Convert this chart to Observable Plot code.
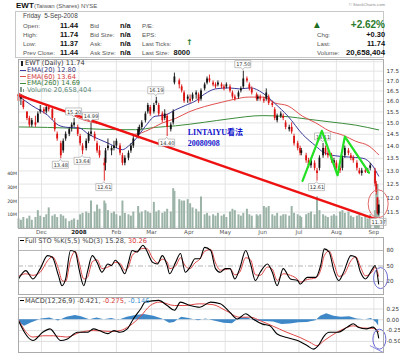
<!DOCTYPE html>
<html><head><meta charset="utf-8">
<script src="https://cdn.jsdelivr.net/npm/d3@7"></script>
<script src="https://cdn.jsdelivr.net/npm/@observablehq/plot@0.6"></script>
<style>
html,body{margin:0;padding:0;background:#fff;}
#root{position:relative;width:400px;height:354px;overflow:hidden;background:#fff;font-family:"Liberation Sans",Arial,sans-serif;}
.t{position:absolute;white-space:pre;line-height:1;}
#root svg{position:absolute;left:0;}
</style></head><body><div id="root"></div>
<script>
// ---------- DATA ----------
const candleDates = ["2007-11-12","2007-11-14","2007-11-16","2007-11-19","2007-11-21","2007-11-23","2007-11-26","2007-11-28","2007-11-30","2007-12-03","2007-12-05","2007-12-07","2007-12-10","2007-12-12","2007-12-14","2007-12-17","2007-12-19","2007-12-21","2007-12-24","2007-12-26","2007-12-28","2007-12-31","2008-01-02","2008-01-04","2008-01-07","2008-01-09","2008-01-11","2008-01-14","2008-01-16","2008-01-18","2008-01-22","2008-01-23","2008-01-25","2008-01-28","2008-01-30","2008-02-01","2008-02-04","2008-02-06","2008-02-08","2008-02-11","2008-02-13","2008-02-15","2008-02-19","2008-02-20","2008-02-22","2008-02-25","2008-02-27","2008-02-29","2008-03-03","2008-03-05","2008-03-07","2008-03-10","2008-03-12","2008-03-14","2008-03-17","2008-03-19","2008-03-20","2008-03-24","2008-03-26","2008-03-28","2008-03-31","2008-04-02","2008-04-04","2008-04-07","2008-04-09","2008-04-11","2008-04-14","2008-04-16","2008-04-18","2008-04-21","2008-04-23","2008-04-25","2008-04-28","2008-04-30","2008-05-02","2008-05-05","2008-05-07","2008-05-09","2008-05-12","2008-05-14","2008-05-16","2008-05-19","2008-05-21","2008-05-23","2008-05-27","2008-05-28","2008-05-30","2008-06-02","2008-06-04","2008-06-06","2008-06-09","2008-06-11","2008-06-13","2008-06-16","2008-06-18","2008-06-20","2008-06-23","2008-06-25","2008-06-27","2008-06-30","2008-07-02","2008-07-03","2008-07-07","2008-07-09","2008-07-11","2008-07-14","2008-07-16","2008-07-18","2008-07-21","2008-07-23","2008-07-25","2008-07-28","2008-07-30","2008-08-01","2008-08-04","2008-08-06","2008-08-08","2008-08-11","2008-08-13","2008-08-15","2008-08-18","2008-08-20","2008-08-22","2008-08-25","2008-08-27","2008-08-29","2008-09-02","2008-09-03","2008-09-04","2008-09-05"];
const opens  = [16.3,16.1,16.0,15.5,15.2,14.9,15.0,15.0,15.5, 15.6,15.5,15.7,15.6,15.0,14.5,14.1,13.8,14.3,14.5,14.8,15.0,14.8, 14.4,14.0,13.9,14.2,14.5,14.5,14.1,13.8,13.2,13.3,14.0,13.8,14.0, 14.0,14.0,13.6,13.3,13.5,13.8,14.0,14.4,14.6,14.8,15.1,15.5,15.7, 15.5,15.9,15.8,15.4,15.2,15.3,14.7,15.0,16.9,17.0,16.7,16.4,16.1, 16.1,16.1,16.3,16.3,16.1,16.6,16.9,17.1,16.9,16.8,16.8,16.8,16.7, 16.7,16.7,16.4,16.2,16.2,16.5,16.7,17.1,16.8,16.6,16.3,16.1,16.2, 16.1,16.1,16.2,15.9,15.6,15.1,15.3,15.3,15.0,14.7,14.8,14.4,14.1, 13.9,13.7,13.6,13.4,13.2,13.3,13.0,13.1,13.6,13.9,13.7,13.6,13.3, 13.3,13.1,13.1,13.6,13.8,13.6,13.5,13.3,13.0,12.9,13.0,12.95,13.1, 13.0,12.5,12.0,11.44];
const highs  = [16.4,16.3,16.1,15.5,15.3,15.2,15.3,15.5,15.8, 15.7,15.8,15.8,15.7,15.2,14.6,14.2,14.3,14.6,14.8,15.0,15.2,14.9, 14.5,14.1,14.3,14.6,14.99,14.6,14.2,14.0,13.5,13.9,14.3,14.0,14.2, 14.3,14.1,13.7,13.6,13.8,14.1,14.4,14.8,14.9,15.1,15.5,15.9,15.8, 15.9,16.19,15.9,15.5,15.6,15.4,15.0,15.6,17.4,17.1,16.8,16.5,16.3, 16.3,16.4,16.5,16.4,16.6,16.9,17.2,17.3,17.0,16.9,17.0,16.9,16.8, 16.9,16.8,16.5,16.3,16.5,16.7,17.5,17.2,16.9,16.7,16.4,16.3,16.3, 16.2,16.6,16.3,16.0,15.7,15.4,15.5,15.4,15.1,14.9,15.0,14.5,14.2, 14.0,13.9,13.7,13.5,13.5,13.4,13.1,13.6,14.11,14.0,13.8,13.7,13.5, 13.4,13.2,13.6,14.0,13.9,13.7,13.6,13.4,13.1,13.1,13.1,13.1,13.3, 13.1,12.6,12.0,11.74];
const lows   = [15.9,15.8,15.6,15.1,14.8,14.8,14.8,15.0,15.4, 15.4,15.4,15.5,15.1,14.6,14.2,13.48,13.7,14.2,14.4,14.6,14.8,14.4, 14.0,13.64,13.8,14.1,14.4,14.2,13.7,13.5,12.61,13.0,13.8,13.6,13.8, 13.9,13.6,13.2,13.2,13.4,13.7,13.9,14.3,14.5,14.7,15.0,15.4,15.3, 15.4,15.8,15.3,15.0,15.1,14.40,14.6,14.9,16.8,16.6,16.4,15.9,15.9, 15.9,16.0,16.1,15.9,16.0,16.5,16.8,16.9,16.7,16.6,16.7,16.6,16.5, 16.6,16.4,16.1,16.0,16.1,16.4,16.6,16.9,16.5,16.3,16.0,16.0,16.0, 15.9,16.0,15.8,15.7,15.1,15.0,15.2,15.1,14.7,14.6,14.5,14.0,13.8, 13.6,13.6,13.3,13.1,13.1,13.0,12.61,13.0,13.5,13.6,13.5,13.3,13.2, 13.0,12.9,13.0,13.5,13.6,13.4,13.3,13.0,12.85,12.8,12.9,12.9,13.0, 12.4,12.1,11.4,11.37];
const closes = [16.0,16.2,15.7,15.2,14.9,15.1,14.9,15.4,15.6, 15.5,15.7,15.6,15.2,14.7,14.3,13.6,14.2,14.5,14.7,14.9,14.9,14.5, 14.1,13.8,14.2,14.5,14.6,14.3,13.8,13.6,13.3,13.8,13.9,13.9,13.9, 14.2,13.7,13.3,13.5,13.7,14.0,14.3,14.7,14.8,15.0,15.4,15.8,15.4, 15.8,16.0,15.4,15.1,15.4,14.8,14.9,15.5,17.2,16.8,16.5,16.0,16.2, 16.0,16.3,16.4,16.0,16.5,16.8,17.1,17.0,16.8,16.7,16.9,16.7,16.6, 16.8,16.5,16.2,16.1,16.4,16.6,17.1,17.0,16.6,16.4,16.1,16.2,16.1, 16.0,16.4,15.9,15.8,15.2,15.3,15.4,15.2,14.8,14.8,14.6,14.1,13.9, 13.7,13.8,13.4,13.2,13.4,13.1,12.9,13.5,13.9,13.7,13.6,13.4,13.4, 13.1,13.0,13.5,13.9,13.7,13.5,13.4,13.1,12.9,13.0,12.95,13.0,13.2, 12.5,12.2,11.44,11.74];
const volumes = [7,6,8,7,9,6,8,13,9, 8,10,15,9,10,8,10,9,7,5,6,7,6, 10,11,12,11,20,12,17,14,20,18,13,11,12, 10,9,20,11,10,9,12,16,11,12,13,12,11, 19,12,13,11,12,14,12,29,27,21,20,20,21, 18,15,14,12,23,10,11,9,10,9,11,9,10, 8,12,14,13,10,9,11,14,10,9,10,9,10, 16,15,16,10,9,11,9,10,10,9,16,11,10, 9,8,10,11,12,10,23,13,10,9,8,9,10, 9,12,13,11,12,9,8,9,10,8,9,7,10, 13,25,32,20.66];

const ema20 = [["2007-11-12",16.25],["2007-11-23",15.8],["2007-12-06",15.35],["2007-12-15",14.9],["2007-12-23",14.8],["2008-01-01",14.78],["2008-01-09",14.5],["2008-01-17",14.3],["2008-01-26",14.1],["2008-02-06",13.85],["2008-02-11",14.0],["2008-02-17",14.3],["2008-02-25",14.85],["2008-03-04",15.3],["2008-03-12",15.35],["2008-03-21",15.6],["2008-03-29",15.8],["2008-04-06",16.0],["2008-04-14",16.35],["2008-04-23",16.6],["2008-05-04",16.65],["2008-05-13",16.6],["2008-05-22",16.65],["2008-06-01",16.4],["2008-06-11",15.9],["2008-06-22",15.3],["2008-07-04",14.5],["2008-07-15",14.0],["2008-07-21",13.75],["2008-07-31",13.6],["2008-08-11",13.55],["2008-08-23",13.5],["2008-08-31",13.2],["2008-09-05",12.8]];
const ema60 = [["2007-11-12",16.4],["2007-11-22",16.1],["2007-12-06",15.8],["2007-12-21",15.5],["2008-01-04",15.15],["2008-01-18",14.95],["2008-02-04",14.7],["2008-02-16",14.5],["2008-02-28",14.7],["2008-03-10",15.0],["2008-03-21",15.2],["2008-04-01",15.5],["2008-04-14",15.75],["2008-04-28",15.95],["2008-05-09",16.1],["2008-05-20",16.2],["2008-06-01",16.2],["2008-06-11",15.92],["2008-06-22",15.78],["2008-07-04",15.3],["2008-07-15",15.0],["2008-07-26",14.65],["2008-08-07",14.45],["2008-08-17",14.2],["2008-08-28",14.0],["2008-09-05",13.64]];
const ema260 = [["2007-11-12",14.82],["2007-12-06",14.8],["2008-01-05",14.75],["2008-02-02",14.7],["2008-02-17",14.7],["2008-03-04",14.8],["2008-03-21",14.87],["2008-04-14",15.03],["2008-05-04",15.18],["2008-06-01",15.33],["2008-06-22",15.28],["2008-07-08",15.17],["2008-07-26",15.05],["2008-08-17",14.9],["2008-09-05",14.69]];
const trendLine = [["2007-11-12",16.29],["2008-09-09",11.17]];
const greenPattern = [["2008-07-04",12.62],["2008-07-20",14.65],["2008-08-02",12.83],["2008-08-08",14.4],["2008-08-28",12.93]];
const highLabels = [["2007-12-28",15.20],["2008-01-11",14.99],["2008-03-05",16.19],["2008-05-16",17.50],["2008-07-21",14.11]];
const lowLabels = [["2007-12-17",13.48],["2008-01-04",13.64],["2008-01-22",12.61],["2008-03-14",14.40],["2008-07-16",12.61],["2008-09-05",11.37]];
const noteLines = ["LINTAIYU看法", "20080908"];

const stoDates = ["2007-11-12","2007-11-18","2007-11-24","2007-11-30","2007-12-06","2007-12-10","2007-12-15","2007-12-18","2007-12-21","2007-12-25","2007-12-29","2008-01-01","2008-01-05","2008-01-08","2008-01-12","2008-01-16","2008-01-20","2008-01-25","2008-01-28","2008-01-31","2008-02-04","2008-02-08","2008-02-11","2008-02-14","2008-02-18","2008-02-23","2008-02-26","2008-03-02","2008-03-06","2008-03-10","2008-03-14","2008-03-16","2008-03-21","2008-03-25","2008-03-29","2008-04-02","2008-04-06","2008-04-10","2008-04-14","2008-04-19","2008-04-23","2008-04-27","2008-05-01","2008-05-05","2008-05-09","2008-05-13","2008-05-18","2008-05-22","2008-05-26","2008-05-30","2008-06-05","2008-06-09","2008-06-13","2008-06-18","2008-06-24","2008-06-30","2008-07-02","2008-07-08","2008-07-15","2008-07-19","2008-07-22","2008-07-26","2008-07-30","2008-08-03","2008-08-07","2008-08-13","2008-08-17","2008-08-21","2008-08-25","2008-08-31","2008-09-02","2008-09-05"];
const stoK = [25,41,25,45, 70,67,32,12,25,80,77, 45,12,38,70,57,38,54,51,61, 51,35,57,80,77,90,80, 57,54,70,51,35,57,74,38, 48,64,64,86,80,45,38, 45,45,25,45,80,54,22,38, 54,38,12,45,25,22, 15,28,28,51,83,77,41, 22,38,70,67,38,25,45, 51,15.28];
const stoD = [30,35,32,38, 60,68,45,22,20,62,78, 58,25,28,58,62,45,48,52,57, 55,42,48,70,78,84,84, 65,56,63,58,45,50,66,50, 45,56,63,78,82,56,42, 43,45,33,38,66,62,33,32, 48,44,22,35,32,24, 19,24,27,42,70,79,55, 30,33,60,68,48,31,40, 48,30.26];

const macdLine = [["2007-11-12",-0.02],["2007-11-24",-0.48],["2007-12-02",-0.29],["2007-12-08",-0.21],["2007-12-17",-0.48],["2007-12-22",-0.45],["2007-12-31",-0.29],["2008-01-08",-0.29],["2008-01-13",-0.21],["2008-01-18",-0.25],["2008-01-25",-0.32],["2008-01-30",-0.25],["2008-02-04",-0.29],["2008-02-10",-0.21],["2008-02-15",0.02],["2008-02-21",0.25],["2008-02-25",0.41],["2008-03-07",0.45],["2008-03-14",0.33],["2008-03-20",0.22],["2008-03-25",0.41],["2008-04-02",0.33],["2008-04-10",0.29],["2008-04-19",0.41],["2008-04-27",0.37],["2008-05-05",0.17],["2008-05-11",0.02],["2008-05-18",0.14],["2008-05-24",0.02],["2008-06-01",-0.1],["2008-06-07",-0.14],["2008-06-13",-0.33],["2008-06-21",-0.41],["2008-06-30",-0.48],["2008-07-08",-0.6],["2008-07-13",-0.68],["2008-07-17",-0.6],["2008-07-22",-0.37],["2008-07-26",-0.29],["2008-08-02",-0.29],["2008-08-10",-0.17],["2008-08-15",-0.09],["2008-08-19",-0.17],["2008-08-26",-0.21],["2008-08-31",-0.17],["2008-09-04",-0.29],["2008-09-05",-0.421]];
const signalLine = [["2007-11-12",0.0],["2007-11-24",-0.40],["2007-12-02",-0.37],["2007-12-11",-0.37],["2007-12-22",-0.40],["2008-01-02",-0.29],["2008-01-13",-0.25],["2008-01-28",-0.27],["2008-02-04",-0.25],["2008-02-12",-0.14],["2008-02-21",0.08],["2008-02-29",0.33],["2008-03-08",0.41],["2008-03-20",0.33],["2008-03-28",0.33],["2008-04-10",0.37],["2008-04-21",0.35],["2008-05-01",0.22],["2008-05-13",0.06],["2008-05-22",0.06],["2008-05-30",-0.02],["2008-06-09",-0.14],["2008-06-21",-0.29],["2008-07-02",-0.41],["2008-07-10",-0.52],["2008-07-16",-0.6],["2008-07-22",-0.48],["2008-07-30",-0.33],["2008-08-07",-0.21],["2008-08-15",-0.14],["2008-08-23",-0.19],["2008-09-01",-0.2],["2008-09-05",-0.275]];
const histogram = [["2007-11-12",-0.05],["2007-11-17",-0.15],["2007-11-22",-0.08],["2007-12-01",0.02],["2007-12-08",0.04],["2007-12-15",-0.03],["2007-12-22",0.06],["2007-12-29",0.1],["2008-01-03",0.07],["2008-01-10",0.0],["2008-01-16",0.04],["2008-01-22",0.0],["2008-01-28",0.03],["2008-02-03",-0.01],["2008-02-10",0.06],["2008-02-17",0.1],["2008-02-24",0.12],["2008-03-03",0.08],["2008-03-10",0.02],["2008-03-16",-0.08],["2008-03-20",-0.06],["2008-03-26",0.06],["2008-04-01",0.03],["2008-04-09",-0.02],["2008-04-15",0.02],["2008-04-22",-0.03],["2008-04-30",-0.08],["2008-05-07",-0.09],["2008-05-13",0.04],["2008-05-19",0.05],["2008-05-26",-0.03],["2008-06-03",-0.04],["2008-06-10",-0.05],["2008-06-17",-0.11],["2008-06-24",-0.1],["2008-07-01",-0.07],["2008-07-08",-0.06],["2008-07-15",-0.02],["2008-07-19",0.08],["2008-07-24",0.14],["2008-07-30",0.08],["2008-08-05",0.06],["2008-08-12",0.07],["2008-08-18",0.02],["2008-08-25",0.0],["2008-08-30",0.03],["2008-09-03",-0.06],["2008-09-05",-0.146]];

const monthStarts = ["2007-12-01","2008-01-01","2008-02-01","2008-03-01","2008-04-01","2008-05-01","2008-06-01","2008-07-01","2008-08-01","2008-09-01"];
const monthLabels = ["Dec","2008","Feb","Mar","Apr","May","Jun","Jul","Aug","Sep"];
const priceTicks = [11.5,12,12.5,13,13.5,14,14.5,15,15.5,16,16.5,17,17.5];
const priceGrid = [11,11.5,12,12.5,13,13.5,14,14.5,15,15.5,16,16.5,17,17.5,18];
const volumeTicks = [10,20,30,40];
const stoTicks = [80,50,20];
const macdTicks = [0.25,0,-0.25,-0.5];

// ---------- BUILD ----------
const root = document.getElementById("root");
const NS = "http://www.w3.org/2000/svg";
const P = a => a.map(([d, v]) => ({date: new Date(d), v, t: v.toFixed(2)}));
const candles = candleDates.map((d, i) => ({
  date: new Date(d), o: opens[i], h: highs[i], l: lows[i], c: closes[i], v: volumes[i],
  col: i > 0 && closes[i] >= closes[i - 1] ? "#111111" : "#dd1111"
}));
const months = monthStarts.map((d, i) => ({date: new Date(d), label: monthLabels[i]}));
const xDomain = [new Date("2007-11-12"), new Date("2008-09-09")];
const priceDomain = [10.95, 18.12];
const common = {width: 400, marginLeft: 18, marginRight: 17};
const xs = {type: "utc", domain: xDomain, axis: null};
const baseStyle = {background: "transparent", fontFamily: "DejaVu Sans, sans-serif", fontSize: "5.6px", color: "#333", overflow: "visible"};

function ellipseMark(date, val, rx, ry, color, w) {
  return (index, scales) => {
    const e = document.createElementNS(NS, "ellipse");
    e.setAttribute("cx", scales.x(new Date(date)));
    e.setAttribute("cy", scales.y(val));
    e.setAttribute("rx", rx); e.setAttribute("ry", ry);
    e.setAttribute("fill", "none"); e.setAttribute("stroke", color); e.setAttribute("stroke-width", w);
    return e;
  };
}
// callout boxes (with a small pointer) placed through the plot's scales
function calloutBoxes(data, above) {
  return (index, scales) => {
    const g = document.createElementNS(NS, "g");
    for (const d of data) {
      const x = scales.x(d.date), y = scales.y(d.v), hw = 8;
      const p = document.createElementNS(NS, "path");
      const dpath = above
        ? `M${x - hw},${y - 10}h${2 * hw}v7h${-(hw - 1.5)}l-1.5,2l-1.5,-2h${-(hw - 1.5)}Z`
        : `M${x - hw},${y + 3}h${hw - 1.5}l1.5,-2l1.5,2h${hw - 1.5}v7h${-2 * hw}Z`;
      p.setAttribute("d", dpath);
      p.setAttribute("fill", "white"); p.setAttribute("stroke", "#9a9a9a"); p.setAttribute("stroke-width", 0.6);
      g.appendChild(p);
    }
    return g;
  };
}
function place(el, top) { el.style.top = top + "px"; root.appendChild(el); }

const hi = P(highLabels), lo = P(lowLabels);

// Layer A: price grid + axes
const A = Plot.plot({
  ...common, height: 181, marginTop: 2, marginBottom: 10,
  x: xs, y: {type: "log", domain: priceDomain},
  style: baseStyle,
  marks: [
    Plot.ruleY(priceGrid, {stroke: "#e4e4e4"}),
    Plot.ruleX(months, {x: "date", stroke: "#e4e4e4"}),
    Plot.axisY(priceTicks, {anchor: "right", tickSize: 0, tickPadding: 3, tickFormat: d => d.toFixed(1), label: null, fill: "#333", fontSize: 5.6}),
    Plot.text(months.filter(m => m.label !== "2008"), {x: "date", text: "label", frameAnchor: "bottom", dy: 5.5, fill: "#555", fontSize: 5.6}),
    Plot.text(months.filter(m => m.label === "2008"), {x: "date", text: "label", frameAnchor: "bottom", dy: 5.5, fill: "#222", fontWeight: "bold", fontSize: 5.6})
  ]
});
place(A, 57);

// Layer B: volume
const B = Plot.plot({
  ...common, height: 181, marginTop: 2, marginBottom: 10,
  x: xs, y: {domain: [0, 123]},
  style: {...baseStyle, fontSize: "4.6px"},
  marks: [
    Plot.ruleX(candles, {x: "date", y1: 0, y2: "v", stroke: "#9cb4a8", strokeWidth: 2}),
    Plot.axisY(volumeTicks, {anchor: "left", tickSize: 0, tickPadding: 1.5, tickFormat: d => d + "M", label: null, fill: "#333", fontSize: 4.6})
  ]
});
place(B, 57);

// Layer C: price marks
const C = Plot.plot({
  ...common, height: 181, marginTop: 2, marginBottom: 10,
  x: xs, y: {type: "log", domain: priceDomain, axis: null},
  style: baseStyle,
  marks: [
    Plot.line(P(ema260), {x: "date", y: "v", stroke: "#3c8c3c", strokeWidth: 1, curve: "monotone-x"}),
    Plot.line(P(ema60), {x: "date", y: "v", stroke: "#e05050", strokeWidth: 1, curve: "monotone-x"}),
    Plot.line(P(ema20), {x: "date", y: "v", stroke: "#3a3a9c", strokeWidth: 1, curve: "monotone-x"}),
    Plot.ruleX(candles, {x: "date", y1: "l", y2: "h", stroke: "col", strokeWidth: 0.9}),
    Plot.ruleX(candles, {x: "date", y1: "o", y2: "c", stroke: "col", strokeWidth: 1.8}),
    Plot.line(P(trendLine), {x: "date", y: "v", stroke: "#ee1111", strokeWidth: 2.4}),
    calloutBoxes(hi, true),
    calloutBoxes(lo, false),
    Plot.text(hi, {x: "date", y: "v", text: "t", dy: -6.5, fontSize: 5, fill: "#333"}),
    Plot.text(lo, {x: "date", y: "v", text: "t", dy: 6.5, fontSize: 5, fill: "#333"}),
    Plot.line(P(greenPattern), {x: "date", y: "v", stroke: "#22e022", strokeWidth: 2.2}),
    Plot.text([{date: new Date("2008-03-31"), v: 14.56, s: noteLines[0]}, {date: new Date("2008-03-31"), v: 14.1, s: noteLines[1]}],
      {x: "date", y: "v", text: "s", textAnchor: "start", fill: "#1414cc", fontWeight: "bold", fontSize: 8, fontFamily: "'Liberation Serif','Noto Sans CJK SC',serif"}),
    ellipseMark("2008-09-05", 11.77, 10, 14, "#e06a6a", 1),
    Plot.frame({stroke: "#aaa"})
  ]
});
place(C, 57);

// STO panel
const S = Plot.plot({
  ...common, height: 59, marginTop: 1, marginBottom: 1,
  x: xs, y: {domain: [-5, 105]},
  style: baseStyle,
  marks: [
    Plot.ruleX(months, {x: "date", stroke: "#e4e4e4"}),
    Plot.ruleY([80, 20], {stroke: "#b5b5b5"}),
    Plot.ruleY([50], {stroke: "#b5b5b5", strokeDasharray: "5,2,1,2"}),
    Plot.axisY(stoTicks, {anchor: "right", tickSize: 0, tickPadding: 3, label: null, fill: "#333", fontSize: 5.6}),
    Plot.line(stoDates.map((d, i) => ({date: new Date(d), v: stoD[i]})), {x: "date", y: "v", stroke: "#e04848", strokeWidth: 1, curve: "monotone-x"}),
    Plot.line(stoDates.map((d, i) => ({date: new Date(d), v: stoK[i]})), {x: "date", y: "v", stroke: "#000", strokeWidth: 1.1, curve: "monotone-x"}),
    ellipseMark("2008-09-07", 25.7, 7, 10.5, "#6c6cd4", 1),
    Plot.frame({stroke: "#aaa"})
  ]
});
place(S, 236);

// MACD panel
const M = Plot.plot({
  ...common, height: 57, marginTop: 1, marginBottom: 1,
  x: xs, y: {domain: [-0.757, 0.516]},
  style: baseStyle,
  marks: [
    Plot.ruleX(months, {x: "date", stroke: "#e4e4e4"}),
    Plot.ruleY(macdTicks, {stroke: "#dedede"}),
    Plot.axisY(macdTicks, {anchor: "right", tickSize: 0, tickPadding: 3, tickFormat: d => d.toFixed(2), label: null, fill: "#333", fontSize: 5.6}),
    Plot.areaY(P(histogram), {x: "date", y: "v", fill: "#3f88c8", curve: "linear"}),
    Plot.line(P(signalLine), {x: "date", y: "v", stroke: "#e04848", strokeWidth: 1, curve: "monotone-x"}),
    Plot.line(P(macdLine), {x: "date", y: "v", stroke: "#000", strokeWidth: 1.1, curve: "monotone-x"}),
    ellipseMark("2008-09-06", -0.46, 6.5, 10, "#6c6cd4", 1),
    Plot.line(P([["2008-08-29", -0.6], ["2008-09-09", -0.76]]), {x: "date", y: "v", stroke: "#6c6cd4", strokeWidth: 0.8}),
    Plot.frame({stroke: "#aaa"})
  ]
});
place(M, 296);

// ---------- HTML TEXT ----------
function txt(x, y, s, css, right) {
  const d = document.createElement("div");
  d.className = "t"; d.textContent = s; d.style.cssText = css || "";
  d.style.left = x + "px"; d.style.top = y + "px";
  d.style.transform = right ? "translate(-100%,-50%)" : "translateY(-50%)";
  root.appendChild(d); return d;
}
function box(x, y, w, h, css) {
  const d = document.createElement("div");
  d.style.cssText = "position:absolute;left:" + x + "px;top:" + y + "px;width:" + w + "px;height:" + h + "px;" + css;
  root.appendChild(d); return d;
}
// header
box(15, 11, 369, 47, "border:1px solid #c8c8c8;box-sizing:border-box;");
txt(16, 5.5, "EWT", "font-size:8px;font-weight:bold;color:#111;");
txt(34, 6, "(Taiwan (Shares) NYSE", "font-size:6px;color:#555;");
txt(385, 5, "© StockCharts.com", "font-size:4.2px;color:#888;", true);
const lab = "font-size:6.2px;color:#555;";
const val = "font-size:7.4px;font-weight:bold;color:#111;";
txt(23, 15.5, "Friday  5-Sep-2008", "font-size:6.4px;color:#444;");
const rowsY = [26, 34.5, 43.5, 52.5];
["Open:", "High:", "Low:", "Prev Close:"].forEach((s, i) => txt(23, rowsY[i], s, lab));
["11.44", "11.74", "11.37", "11.44"].forEach((s, i) => txt(78, rowsY[i], s, val, true));
["Bid", "Bid Size:", "Ask:", "Ask Size:"].forEach((s, i) => txt(90, rowsY[i], s, lab));
["n/a", "n/a", "n/a", "n/a"].forEach((s, i) => txt(120, rowsY[i], s, val));
["P/E:", "EPS:", "Last Ticks:", "Last Size:"].forEach((s, i) => txt(142, rowsY[i], s, lab));
txt(186, 43, "↑", "font-size:8px;font-weight:bold;color:#1d7a1d;font-family:'DejaVu Sans';");
txt(190, 52.5, "8000", val, true);
txt(314, 25, "▲", "font-size:7.5px;color:#1d6e1d;font-family:'DejaVu Sans';");
txt(385, 25, "+2.62%", "font-size:10px;font-weight:bold;color:#2a7a2a;", true);
["Chg:", "Last:", "Volume:"].forEach((s, i) => txt(317, rowsY[i + 1], s, lab));
txt(385, 34.5, "+0.30", val, true);
txt(385, 43.5, "11.74", val, true);
txt(385, 52.5, "20,658,404", "font-size:7.8px;font-weight:bold;color:#111;", true);

// main legend
const lg = "font-family:'DejaVu Sans';font-size:6.6px;";
box(21, 60.5, 2, 5, "background:#222;");
txt(25, 63, "EWT (Daily) 11.74", lg + "color:#333;");
box(20, 69.6, 6, 1.4, "background:#3a3a9c;");
txt(27, 70, "EMA(20) 12.80", lg + "color:#3a3a7a;");
box(20, 76.1, 6, 1.4, "background:#e05050;");
txt(27, 76.5, "EMA(60) 13.64", lg + "color:#d03838;");
box(20, 82.6, 6, 1.4, "background:#3c8c3c;");
txt(27, 83, "EMA(260) 14.69", lg + "color:#3a7a3a;");
box(20, 87, 1.5, 5, "background:#7f9a8d;"); box(22.5, 88.5, 1.5, 3.5, "background:#7f9a8d;");
txt(27, 89.5, "Volume 20,658,404", lg + "color:#5a8a78;");

// STO legend
box(20, 240.2, 4, 1.2, "background:#000;");
const sl = txt(25, 240.5, "", lg + "color:#444;");
sl.innerHTML = 'Full STO %K(5,5) %D(3) 15.28, <span style="color:#d83a3a">30.26</span>';
// MACD legend
box(20, 300.2, 4, 1.2, "background:#000;");
const ml = txt(25, 300.5, "", lg + "color:#444;");
ml.innerHTML = 'MACD(12,26,9) -0.421, <span style="color:#d83a3a">-0.275</span>, <span style="color:#3d8fd0">-0.146</span>';
</script></body></html>
